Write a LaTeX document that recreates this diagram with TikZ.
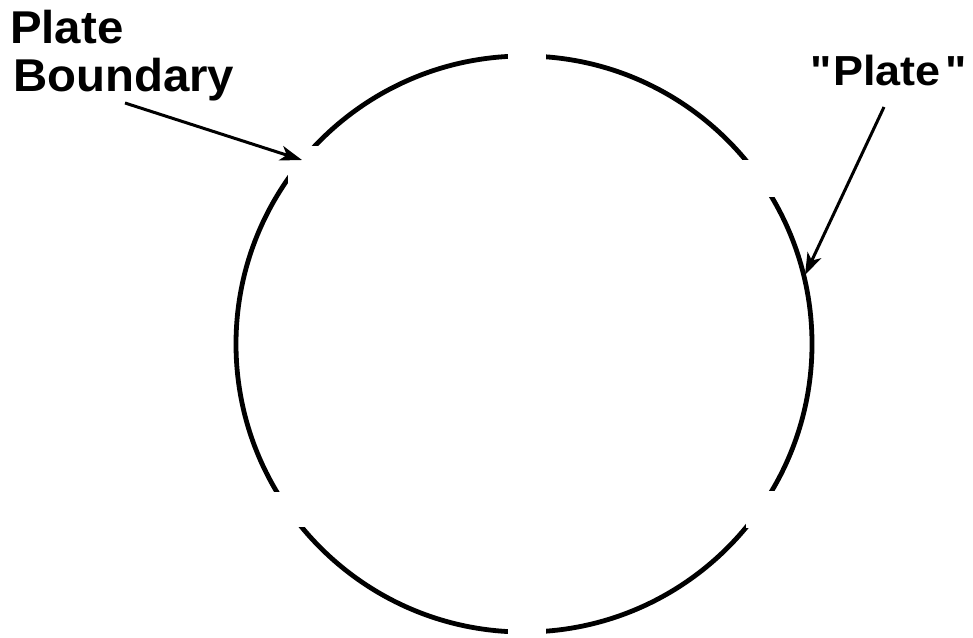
\documentclass[tikz,border=0pt]{standalone}
\usepackage{fontspec}
\setmainfont{Liberation Sans}
\newfontfamily\labelfont{Liberation Sans}[FakeStretch=1.03, Ligatures=TeXOff]
\newfontfamily\quotefont{Liberation Sans}[FakeStretch=1.07, Ligatures=TeXOff]
\usetikzlibrary{arrows.meta}
\begin{document}
\begin{tikzpicture}[x=1pt,y=-1pt,
  rim/.style={line width=4.8pt},
  gapbox/.style={fill=white,draw=none},
  pointer/.style={line width=3pt,-{Stealth[length=22pt,width=15pt,inset=6pt]}},
  lbl/.style={font=\labelfont\bfseries\fontsize{46}{48}\selectfont, inner sep=0pt, anchor=base west},
  qlbl/.style={font=\quotefont\bfseries\fontsize{42}{44}\selectfont, inner sep=0pt, anchor=base west}]
\useasboundingbox (0,0) rectangle (973,637);
% the globe
\draw[rim] (524,344) circle[radius=288pt];
% plate boundaries (gaps)
\fill[gapbox] (508,40) rectangle (546,80);
\fill[gapbox] (288,146) rectangle (330,190);
\fill[gapbox] (730,160) rectangle (800,197);
\fill[gapbox] (260,492) rectangle (310,527);
\fill[gapbox] (746,491) rectangle (800,528);
\fill[gapbox] (508,605) rectangle (546,637);
% labels
\node[lbl] (plate) at (10,43) {Plate};
\node[lbl] (boundary) at (13,91) {Boundary};
\node[qlbl] (quoted) at (810,85) {"\kern2pt Plate\kern5pt "};
% pointers
\coordinate (pbstart) at (125,103);
\coordinate (pbtip) at (302,160);
\coordinate (plstart) at (884,107);
\coordinate (pltip) at (805,275);
\draw[pointer] (pbstart) -- (pbtip);
\draw[pointer] (plstart) -- (pltip);
\end{tikzpicture}
\end{document}
